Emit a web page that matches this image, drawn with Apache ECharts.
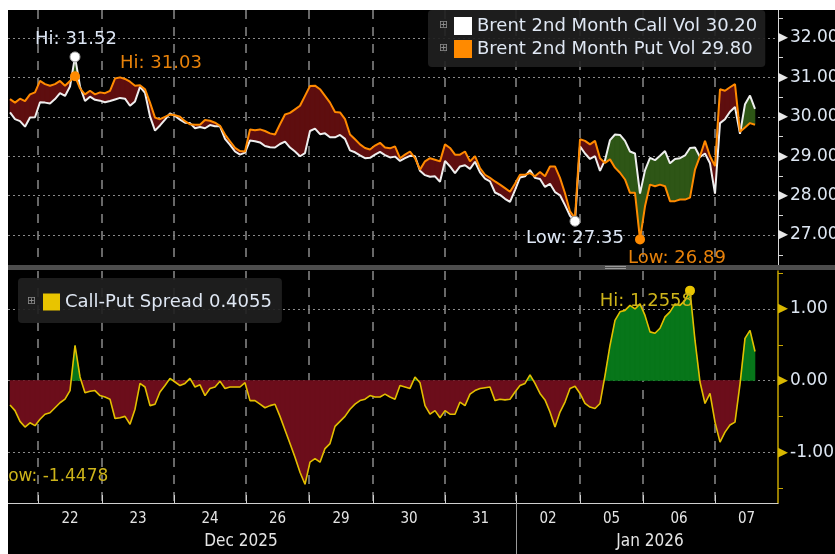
<!DOCTYPE html>
<html>
<head>
<meta charset="utf-8">
<script src="https://cdn.jsdelivr.net/npm/echarts@6.0.0/dist/echarts.min.js"></script>
<style>
  html, body { margin: 0; padding: 0; background: #fff; overflow: hidden; }
  #chart { position: absolute; left: 8px; top: 10px; width: 827px; height: 544px; }
</style>
</head>
<body>
<div id="chart"></div>
<script>
// intraday samples, Dec 19 2025 -> Jan 07 2026 (trading-time axis, one value per sample)
const callVol = [
  30.11, 29.94, 29.89, 29.75, 29.98, 29.99, 30.37, 30.36, 30.34, 30.45,
  30.60, 30.53, 30.77, 31.52, 30.77, 30.40, 30.51, 30.43, 30.41, 30.37,
  30.40, 30.44, 30.48, 30.46, 30.28, 30.39, 30.76, 30.61, 30.01, 29.65,
  29.78, 29.93, 30.09, 30.02, 29.93, 29.85, 29.84, 29.71, 29.74, 29.71,
  29.79, 29.76, 29.76, 29.44, 29.29, 29.12, 29.04, 29.09, 29.40, 29.38,
  29.35, 29.26, 29.23, 29.22, 29.31, 29.37, 29.22, 29.12, 29.00, 29.08,
  29.64, 29.70, 29.56, 29.58, 29.48, 29.48, 29.54, 29.44, 29.15, 29.10,
  29.02, 28.95, 28.96, 29.04, 29.11, 29.03, 28.97, 28.99, 28.88, 28.95,
  29.01, 29.00, 28.63, 28.52, 28.48, 28.49, 28.35, 28.88, 28.74, 28.57,
  28.74, 28.77, 28.68, 28.86, 28.59, 28.43, 28.36, 28.08, 28.02, 27.92,
  27.84, 28.14, 28.46, 28.49, 28.65, 28.45, 28.42, 28.22, 28.30, 28.09,
  28.01, 27.76, 27.49, 27.35, 29.25, 29.07, 28.93, 29.00, 28.63, 28.90,
  29.41, 29.55, 29.54, 29.39, 29.12, 29.07, 28.05, 28.64, 28.96, 28.90,
  29.01, 29.13, 28.82, 28.93, 28.95, 29.02, 29.21, 29.22, 28.98, 29.07,
  28.82, 28.05, 29.84, 29.94, 30.13, 30.25, 29.57, 30.32, 30.54, 30.20
];
const putVol = [
  30.45, 30.36, 30.46, 30.40, 30.57, 30.62, 30.91, 30.83, 30.79, 30.83,
  30.91, 30.79, 30.91, 31.03, 30.72, 30.57, 30.66, 30.57, 30.62, 30.60,
  30.66, 30.97, 31.00, 30.96, 30.89, 30.79, 30.80, 30.70, 30.36, 29.98,
  29.94, 30.00, 30.06, 30.04, 30.00, 29.89, 29.81, 29.80, 29.80, 29.92,
  29.90, 29.85, 29.77, 29.55, 29.38, 29.21, 29.13, 29.12, 29.68, 29.66,
  29.68, 29.64, 29.58, 29.55, 29.81, 30.06, 30.10, 30.19, 30.28, 30.53,
  30.78, 30.79, 30.70, 30.53, 30.36, 30.12, 30.11, 29.94, 29.55, 29.43,
  29.30, 29.21, 29.17, 29.27, 29.34, 29.22, 29.20, 29.25, 28.95, 29.04,
  29.12, 28.95, 28.66, 28.87, 28.95, 28.91, 28.87, 29.30, 29.21, 29.04,
  29.04, 29.12, 28.87, 29.00, 28.70, 28.53, 28.45, 28.36, 28.28, 28.19,
  28.10, 28.30, 28.53, 28.53, 28.57, 28.49, 28.60, 28.49, 28.74, 28.74,
  28.45, 28.06, 27.60, 27.43, 29.43, 29.39, 29.30, 29.39, 28.95, 28.83,
  28.92, 28.71, 28.58, 28.41, 28.07, 28.07, 26.89, 27.73, 28.28, 28.24,
  28.28, 28.24, 27.86, 27.86, 27.90, 27.90, 27.95, 28.66, 29.00, 29.39,
  29.00, 28.75, 30.70, 30.66, 30.75, 30.83, 29.62, 29.73, 29.84, 29.80
];
const spread = [
  -0.34, -0.42, -0.57, -0.65, -0.59, -0.63, -0.54, -0.47, -0.45, -0.38,
  -0.31, -0.26, -0.14, 0.49, 0.05, -0.17, -0.15, -0.14, -0.21, -0.23,
  -0.26, -0.53, -0.52, -0.50, -0.61, -0.40, -0.04, -0.09, -0.35, -0.33,
  -0.16, -0.07, 0.03, -0.02, -0.07, -0.04, 0.03, -0.09, -0.06, -0.21,
  -0.11, -0.09, -0.01, -0.11, -0.09, -0.09, -0.09, -0.03, -0.28, -0.28,
  -0.33, -0.38, -0.35, -0.33, -0.50, -0.69, -0.88, -1.07, -1.28, -1.4478,
  -1.14, -1.09, -1.14, -0.95, -0.88, -0.64, -0.57, -0.50, -0.40, -0.33,
  -0.28, -0.26, -0.21, -0.23, -0.23, -0.19, -0.23, -0.26, -0.07, -0.09,
  -0.11, 0.05, -0.03, -0.35, -0.47, -0.42, -0.52, -0.42, -0.47, -0.47,
  -0.30, -0.35, -0.19, -0.14, -0.11, -0.10, -0.09, -0.28, -0.26, -0.27,
  -0.26, -0.16, -0.07, -0.04, 0.08, -0.04, -0.18, -0.27, -0.44, -0.65,
  -0.44, -0.30, -0.11, -0.08, -0.18, -0.32, -0.37, -0.39, -0.32, 0.07,
  0.49, 0.84, 0.96, 0.98, 1.05, 1.00, 1.07, 0.91, 0.68, 0.66,
  0.73, 0.89, 0.96, 1.07, 1.05, 1.12, 1.2558, 0.56, -0.02, -0.32,
  -0.18, -0.58, -0.86, -0.72, -0.62, -0.58, -0.05, 0.59, 0.70, 0.4055
];

// session opens on the sample scale, and the day / month labels
const dayOpen = [5.6, 18.4, 32.8, 47.2, 59.8, 72.6, 87, 101.2, 114, 126.6, 141];
const dayLabels = ['22', '23', '24', '26', '29', '30', '31', '02', '05', '06', '07'];
const monthAt = [46.2, 128];
const monthLabels = ['Dec 2025', 'Jan 2026'];
const monthBreak = [101.2];

// axis ticks
const volTicks = [27, 28, 29, 30, 31, 32];
const volMinor = [26.5, 27.5, 28.5, 29.5, 30.5, 31.5, 32.5];
const spreadTicks = [-1, 0, 1];
const spreadMinor = [-1.5, -0.5, 0.5, 1.5];

const X_MIN = -0.4, X_MAX = 153.6;
const VOL_MIN = 26.24, VOL_MAX = 32.71;
const SPR_MIN = -1.71, SPR_MAX = 1.53;
const FONT = '"DejaVu Sans", Verdana, sans-serif';
const NARROW = '"DejaVu Sans Condensed", "Liberation Sans Narrow", sans-serif';

const RED_TOP = '#5e0e0f', GREEN_TOP = '#2e5616';
const RED_LOW = '#6c0d1b', GREEN_LOW = '#07761a';

const pairs = arr => arr.map((v, i) => [i, v]);
const last = arr => arr[arr.length - 1];
const dayMid = dayOpen.map((d, k) => (d + (k < dayOpen.length - 1 ? dayOpen[k + 1] : X_MAX)) / 2);
const nearIdx = (list, v) => list.findIndex(m => Math.abs(m - v) < 1e-6);

// one segment per neighbouring pair of samples
const volSegs = callVol.slice(1).map((c, i) => [i, callVol[i], putVol[i], c, putVol[i + 1]]);
const sprSegs = spread.slice(1).map((s, i) => [i, spread[i], s]);

// fill between two curves a and b over one segment, coloured by sign of a - b
function bandPolys(api, x0, a0, b0, a1, b1, up, down) {
  const pt = (x, y) => api.coord([x, y]);
  const d0 = a0 - b0, d1 = a1 - b1;
  const poly = (pts, d) => ({
    type: 'polygon', shape: {points: pts},
    style: {fill: d > 0 ? up : down, stroke: d > 0 ? up : down, lineWidth: 0.6}
  });
  if (d0 * d1 >= 0) {
    if (d0 === 0 && d1 === 0) return [];
    return [poly([pt(x0, a0), pt(x0 + 1, a1), pt(x0 + 1, b1), pt(x0, b0)], d0 + d1)];
  }
  const t = d0 / (d0 - d1);
  const xm = x0 + t, ym = a0 + t * (a1 - a0);
  return [
    poly([pt(x0, a0), pt(xm, ym), pt(x0, b0)], d0),
    poly([pt(xm, ym), pt(x0 + 1, a1), pt(x0 + 1, b1)], d1)
  ];
}

const chart = echarts.init(document.getElementById('chart'), null, {renderer: 'canvas'});

const tickLabel = (color) => ({
  margin: 0,
  formatter: v => '{p|\u25B6}{t|' + v.toFixed(2) + '}',
  rich: {
    p: {color: color, fontSize: 13, fontFamily: FONT},
    t: {color: '#dde6f2', fontSize: 17, fontFamily: FONT, padding: [0, 0, 0, 2]}
  }
});
const dashV = {show: true, lineStyle: {color: '#8a8a8a', width: 1.5, type: [9, 8]}};
const dotH = {show: true, lineStyle: {color: '#8a8a8a', type: [2, 3]}};
// axis that only carries the horizontal grid lines
const gridOnlyY = (grid, min, max, ticks) => ({
  gridIndex: grid, type: 'value', position: 'left', min: min, max: max,
  axisLine: {show: false}, axisLabel: {show: false},
  axisTick: {show: false, customValues: ticks},
  splitLine: dotH
});
const panel = (top, height, bottom) => Object.assign(
  {left: 0, right: 57, top: top, containLabel: false, outerBoundsMode: 'none'},
  height != null ? {height: height} : {bottom: bottom}
);

const option = {
  animation: false,
  backgroundColor: '#000',
  textStyle: {fontFamily: FONT},
  grid: [panel(0, 255), panel(261, null, 51), panel(261, null, 51)],
  legend: [
    {
      data: ['Brent 2nd Month Call Vol', 'Brent 2nd Month Put Vol'],
      orient: 'vertical', left: 420, top: 0,
      padding: [7, 8, 9, 26], itemGap: 5, itemWidth: 18, itemHeight: 18,
      icon: 'rect', backgroundColor: 'rgba(32,32,32,0.92)', borderRadius: 4,
      selectedMode: false,
      textStyle: {color: '#dfe7f3', fontSize: 18, fontFamily: FONT},
      formatter: name => name + ' ' + (name.indexOf('Call') > 0 ? last(callVol) : last(putVol)).toFixed(2)
    },
    {
      data: ['Call-Put Spread'],
      orient: 'vertical', left: 10, top: 268,
      padding: [15, 10, 12, 25], itemWidth: 17, itemHeight: 17,
      icon: 'rect', backgroundColor: 'rgba(32,32,32,0.92)', borderRadius: 4,
      selectedMode: false,
      textStyle: {color: '#dfe7f3', fontSize: 18, fontFamily: FONT},
      formatter: name => name + ' ' + last(spread).toFixed(4)
    }
  ],
  xAxis: [
    {
      gridIndex: 0, type: 'value', min: X_MIN, max: X_MAX,
      axisLine: {show: false, onZero: false},
      axisTick: {show: false, customValues: dayOpen},
      axisLabel: {show: false},
      splitLine: dashV
    },
    {
      gridIndex: 1, type: 'value', min: X_MIN, max: X_MAX, position: 'bottom',
      axisLine: {show: true, onZero: false, lineStyle: {color: '#cfcfcf', width: 1}},
      axisTick: {show: true, inside: true, length: 8, customValues: dayOpen, lineStyle: {color: '#cfcfcf'}},
      axisLabel: {
        customValues: dayMid, margin: 9, color: '#e4e4e4', fontSize: 15, fontFamily: NARROW,
        formatter: v => dayLabels[nearIdx(dayMid, v)] || ''
      },
      splitLine: dashV
    },
    {
      gridIndex: 2, type: 'value', min: X_MIN, max: X_MAX, position: 'bottom',
      axisLine: {show: false, onZero: false},
      axisTick: {show: true, length: 51, customValues: monthBreak, lineStyle: {color: '#9a9a9a'}},
      axisLabel: {
        customValues: monthAt, margin: 30, color: '#e4e4e4', fontSize: 17, fontFamily: NARROW,
        formatter: v => monthLabels[nearIdx(monthAt, v)] || ''
      },
      splitLine: {show: false}
    }
  ],
  yAxis: [
    {
      gridIndex: 0, type: 'value', position: 'right', min: VOL_MIN, max: VOL_MAX,
      axisLine: {show: true, onZero: false, lineStyle: {color: '#d6d6d6'}},
      axisTick: {show: true, inside: false, length: 5, customValues: volMinor, lineStyle: {color: '#d6d6d6'}},
      axisLabel: Object.assign({customValues: volTicks}, tickLabel('#e8e8e8')),
      splitLine: {show: false}
    },
    gridOnlyY(0, VOL_MIN, VOL_MAX, volTicks),
    {
      gridIndex: 1, type: 'value', position: 'right', min: SPR_MIN, max: SPR_MAX,
      axisLine: {show: true, onZero: false, lineStyle: {color: '#c9a600', width: 1.5}},
      axisTick: {show: true, inside: false, length: 5, customValues: spreadMinor, lineStyle: {color: '#c9a600'}},
      axisLabel: Object.assign({customValues: spreadTicks}, tickLabel('#d9b800')),
      splitLine: {show: false}
    },
    gridOnlyY(1, SPR_MIN, SPR_MAX, spreadTicks),
    {gridIndex: 2, type: 'value', min: SPR_MIN, max: SPR_MAX, show: false, splitLine: {show: false}}
  ],
  series: [
    {
      type: 'custom', silent: true, xAxisIndex: 0, yAxisIndex: 0, z: 1,
      encode: {x: 0, y: [1, 2]},
      data: volSegs,
      renderItem: (params, api) => ({
        type: 'group',
        children: bandPolys(api, api.value(0), api.value(1), api.value(2), api.value(3), api.value(4), GREEN_TOP, RED_TOP)
      })
    },
    {
      name: 'Brent 2nd Month Call Vol', type: 'line',
      xAxisIndex: 0, yAxisIndex: 0, symbol: 'none', z: 3,
      itemStyle: {color: '#ffffff'},
      lineStyle: {color: '#eeeeee', width: 2},
      data: pairs(callVol),
      markPoint: {
        symbol: 'circle', symbolSize: 10, z: 10,
        itemStyle: {color: '#ffffff', borderColor: '#9a9a9a', borderWidth: 1},
        data: [
          {type: 'max', label: {position: 'top', distance: 3, offset: [1, 0]}},
          {type: 'min', label: {position: 'bottom', distance: 3}}
        ],
        label: {
          color: '#dde6f4', fontSize: 18, fontFamily: FONT,
          formatter: p => (p.data.type === 'max' ? 'Hi: ' : 'Low: ') + p.value.toFixed(2)
        }
      }
    },
    {
      name: 'Brent 2nd Month Put Vol', type: 'line',
      xAxisIndex: 0, yAxisIndex: 0, symbol: 'none', z: 4,
      itemStyle: {color: '#ff8a00'},
      lineStyle: {color: '#ff8a00', width: 2},
      data: pairs(putVol),
      markPoint: {
        symbol: 'circle', symbolSize: 10, z: 10,
        itemStyle: {color: '#ff8a00'},
        data: [
          {type: 'max', label: {position: 'right', distance: 40, offset: [0, -13]}},
          {type: 'min', label: {position: 'bottom', distance: 3, offset: [37, 2]}}
        ],
        label: {
          color: '#e8820a', fontSize: 18, fontFamily: FONT,
          formatter: p => (p.data.type === 'max' ? 'Hi: ' : 'Low: ') + p.value.toFixed(2)
        }
      }
    },
    {
      type: 'custom', silent: true, xAxisIndex: 1, yAxisIndex: 2, z: 1,
      encode: {x: 0, y: [1, 2]},
      data: sprSegs,
      renderItem: (params, api) => ({
        type: 'group',
        children: bandPolys(api, api.value(0), api.value(1), 0, api.value(2), 0, GREEN_LOW, RED_LOW)
      })
    },
    {
      name: 'Call-Put Spread', type: 'line',
      xAxisIndex: 1, yAxisIndex: 2, symbol: 'none', z: 4,
      itemStyle: {color: '#e8c400'},
      lineStyle: {color: '#e2bf00', width: 1.6},
      data: pairs(spread),
      markPoint: {
        symbol: 'circle', symbolSize: 10, z: 10,
        itemStyle: {color: '#e8c400'},
        data: [{type: 'max', label: {position: 'left', distance: 0, offset: [8, 11]}}],
        label: {
          color: '#cdb41a', fontSize: 18, fontFamily: FONT,
          formatter: p => 'Hi: ' + p.value.toFixed(4)
        }
      }
    }
  ],
  graphic: [
    // panel divider with grip
    {type: 'rect', z: 50, shape: {x: 0, y: 255, width: 827, height: 5}, style: {fill: '#4d4d4d'}},
    {type: 'rect', z: 51, shape: {x: 597, y: 256, width: 21, height: 1}, style: {fill: '#9a9a9a'}},
    {type: 'rect', z: 51, shape: {x: 597, y: 258, width: 21, height: 1}, style: {fill: '#9a9a9a'}},
    // legend expand boxes
    {type: 'text', z: 60, x: 431, y: 10, style: {text: '\u229E', fill: '#8c8c8c', fontSize: 11, fontFamily: FONT}},
    {type: 'text', z: 60, x: 431, y: 33, style: {text: '\u229E', fill: '#8c8c8c', fontSize: 11, fontFamily: FONT}},
    {type: 'text', z: 60, x: 19, y: 286, style: {text: '\u229E', fill: '#8c8c8c', fontSize: 11, fontFamily: FONT}},
    // spread low annotation (sits at the left edge, partly cut off)
    {type: 'text', z: 60, x: -9, y: 458, style: {
      text: 'Low: ' + Math.min.apply(null, spread).toFixed(4),
      fill: '#cdb41a', fontSize: 17, fontFamily: FONT
    }}
  ]
};

chart.setOption(option);
</script>
</body>
</html>
